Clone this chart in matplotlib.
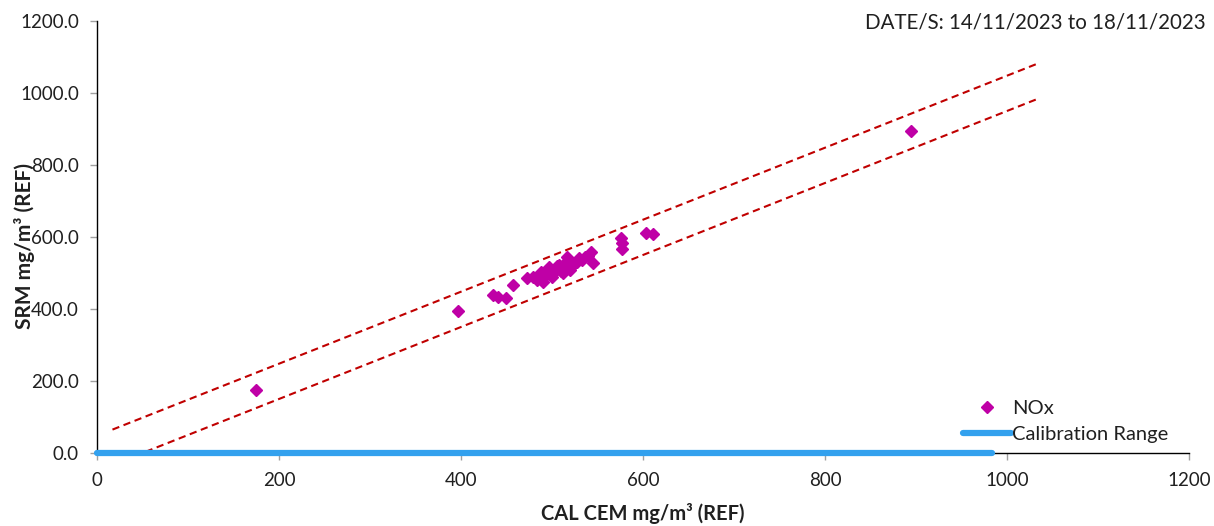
import matplotlib
matplotlib.use("Agg")
import matplotlib.pyplot as plt
import numpy as np

plt.rcParams['font.family'] = ['Lato', 'DejaVu Sans']

# NOx data (CAL CEM vs SRM)
cem_x = [175, 397, 435, 441, 449, 457, 472, 479, 484, 488, 490, 494, 497, 500, 501,
         504, 506, 508, 510, 512, 514, 515, 517, 519, 520, 522, 524, 527, 530, 533,
         536, 540, 543, 545, 576, 577, 577, 603, 611, 894]
srm_y = [175, 395, 439, 433, 430, 467, 485, 490, 480, 504, 476, 498, 517, 488, 499,
         508, 520, 522, 505, 499, 515, 530, 545, 513, 508, 521, 526, 531, 541, 535,
         545, 548, 559, 527, 596, 584, 566, 610, 608, 894]

# Confidence limit lines
line_x = [17, 1032]
upper_y = [65, 1080]
lower_y = [-33, 982]

# Calibration range
cal_x = [0, 984]
cal_y = [0, 0]

fig = plt.figure(figsize=(12.14, 5.26), dpi=100)
ax = fig.add_axes([0.0799, 0.1388, 0.8995, 0.8213])

ax.plot(line_x, upper_y, color='#C00000', linestyle=(0, (3.5, 2.2)), linewidth=1.5, zorder=2)
ax.plot(line_x, lower_y, color='#C00000', linestyle=(0, (3.5, 2.2)), linewidth=1.5, zorder=2)
ax.plot(cem_x, srm_y, linestyle='none', marker='D', markersize=6.5, color='#BF00A6',
        label='NOx', zorder=3)
ax.plot(cal_x, cal_y, color='#33A1EE', linewidth=4.5, solid_capstyle='round',
        label='Calibration Range', clip_on=False, zorder=4)

ax.set_xlim(0, 1200)
ax.set_ylim(0, 1200)
ax.set_xticks(np.arange(0, 1201, 200))
ax.set_yticks(np.arange(0, 1201, 200))
ax.set_yticklabels([f"{v:.1f}" for v in np.arange(0, 1201, 200)])
ax.tick_params(axis='both', direction='out', length=5, width=1, color='#A0A0A0',
               labelsize=13.5, labelcolor='#202020')
ax.tick_params(axis='y', pad=8)
ax.tick_params(axis='x', pad=9)
for s in ['top', 'right']:
    ax.spines[s].set_visible(False)
for s in ['left', 'bottom']:
    ax.spines[s].set_color('#000000')
    ax.spines[s].set_linewidth(1)

ax.set_xlabel('CAL CEM mg/m³ (REF)', fontsize=14.5, fontweight='bold', color='#202020')
ax.set_ylabel('SRM mg/m³ (REF)', fontsize=15, fontweight='bold', color='#202020')
ax.xaxis.set_label_coords(0.5, -0.116)
ax.yaxis.set_label_coords(-0.057, 0.48)

fig.text(0.993, 0.958, 'DATE/S: 14/11/2023 to 18/11/2023', ha='right', va='center',
         fontsize=14.8, color='#202020')

leg = ax.legend(loc='lower left', bbox_to_anchor=(0.786, 0.005), frameon=False,
                fontsize=14.5, handlelength=2.35, handletextpad=0.05, labelspacing=0.42,
                borderaxespad=0)
for t in leg.get_texts():
    t.set_color('#202020')

fig.savefig('out.png', dpi=100)
